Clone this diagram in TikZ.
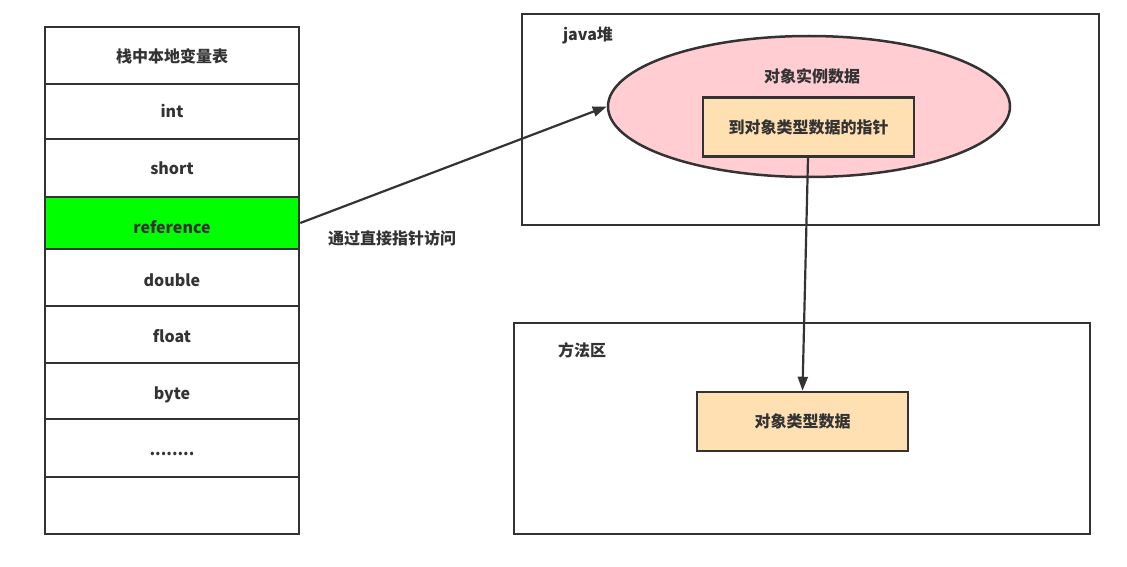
\documentclass[tikz,border=0pt]{standalone}
\usepackage{fontspec}
\setmainfont{Noto Sans CJK SC}
\usetikzlibrary{shapes.geometric,arrows.meta}
\definecolor{ln}{HTML}{333333}
\definecolor{pinkf}{HTML}{FFCDD2}
\definecolor{orangef}{HTML}{FFE0B2}
\definecolor{greenf}{HTML}{00FF00}
\newcommand{\dn}[2]{\raisebox{-#1pt}[0pt][0pt]{#2}}
\tikzset{
  cell/.style={draw=ln,line width=2.5pt,rectangle,inner sep=0,minimum width=254pt,font=\fontsize{16}{18}\selectfont\bfseries,text=ln},
  area/.style={draw=ln,line width=2.5pt,rectangle,inner sep=0},
  inbox/.style={draw=ln,line width=2.5pt,fill=orangef,rectangle,inner sep=0,minimum width=211pt,minimum height=59pt,font=\fontsize{16}{18}\selectfont\bfseries,text=ln},
  lbl/.style={font=\fontsize{16}{18}\selectfont\bfseries,text=ln,inner sep=0},
  conn/.style={draw=ln,line width=2.2pt,-{Triangle[length=14pt,width=10pt]}},
}
\begin{document}
\begin{tikzpicture}[x=1pt,y=-1pt]
\useasboundingbox (0,0) rectangle (1127,567);
% stack column
\node[cell,minimum height=57pt] (r0) at (172,55.5) {\dn{7.5}{栈中本地变量表}};
\node[cell,minimum height=55pt] (r1) at (172,111.5) {\dn{6.5}{int}};
\node[cell,minimum height=58pt] (r2) at (172,168) {\dn{6}{short}};
\node[cell,minimum height=52pt,fill=greenf] (r3) at (172,223) {\dn{10}{reference}};
\node[cell,minimum height=57pt] (r4) at (172,277.5) {\dn{8.5}{double}};
\node[cell,minimum height=57pt] (r5) at (172,334.5) {\dn{7.5}{float}};
\node[cell,minimum height=56pt] (r6) at (172,391) {\dn{8}{byte}};
\node[cell,minimum height=58pt] (r7) at (172,448) {\dn{7.5}{........}};
\node[cell,minimum height=57pt] (r8) at (172,505.5) {};
% java heap
\node[area,minimum width=577pt,minimum height=211pt] (heap) at (810.5,119.5) {};
\node[lbl] (heapl) at (588,35.5) {java堆};
\node[ellipse,draw=ln,line width=2.5pt,fill=pinkf,minimum width=402pt,minimum height=141pt,inner sep=0] (obj) at (809,106.5) {};
\node[lbl] (objl) at (812,76) {对象实例数据};
\node[inbox] (ptr) at (808.5,127) {到对象类型数据的指针};
% method area
\node[area,minimum width=576pt,minimum height=211pt] (meth) at (802,428.5) {};
\node[lbl] (methl) at (582,350) {方法区};
\node[inbox] (type) at (802.5,421.5) {对象类型数据};
% connectors
\draw[conn] (r3.east) -- (obj.west);
\node[lbl] (acc) at (392,238) {通过直接指针访问};
\draw[conn] ([xshift=-0.5pt]ptr.south) -- (type.north);
\end{tikzpicture}
\end{document}
